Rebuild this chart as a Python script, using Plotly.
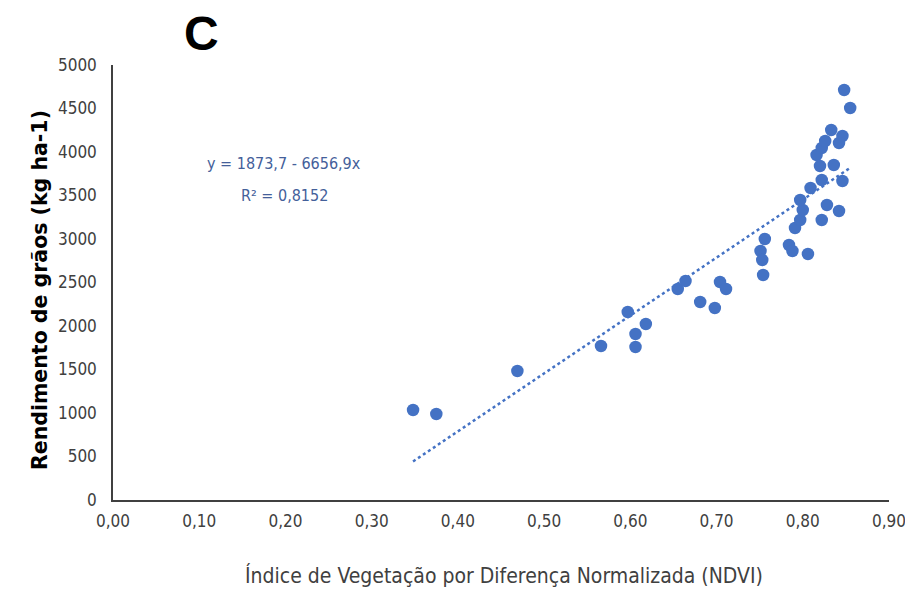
import plotly.graph_objects as go

ndvi = [0.348, 0.375, 0.469, 0.566, 0.597, 0.606, 0.606, 0.618, 0.655, 0.664,
        0.681, 0.698, 0.704, 0.711, 0.754, 0.751, 0.753, 0.756, 0.784, 0.788,
        0.806, 0.791, 0.797, 0.800, 0.797, 0.809, 0.822, 0.846, 0.828, 0.842,
        0.822, 0.820, 0.836, 0.816, 0.822, 0.826, 0.833, 0.846, 0.842, 0.848,
        0.855]
rendimento = [1034, 989, 1483, 1770, 2161, 1908, 1759, 2023, 2425, 2517,
              2276, 2207, 2506, 2425, 2586, 2862, 2759, 3000, 2931, 2862,
              2828, 3126, 3218, 3333, 3448, 3586, 3678, 3667, 3391, 3322,
              3218, 3839, 3851, 3966, 4046, 4126, 4253, 4184, 4103, 4713,
              4506]

intercept = -1873.7
slope = 6656.9
eq_text = "y = 1873,7 - 6656,9x"
r2_text = "R² = 0,8152"

x_ticks = [0.0, 0.1, 0.2, 0.3, 0.4, 0.5, 0.6, 0.7, 0.8, 0.9]
x_ticktext = ["0,00", "0,10", "0,20", "0,30", "0,40", "0,50", "0,60", "0,70", "0,80", "0,90"]
y_ticks = [0, 500, 1000, 1500, 2000, 2500, 3000, 3500, 4000, 4500, 5000]

x_title = "Índice de Vegetação por Diferença Normalizada (NDVI)"
y_title = "Rendimento de grãos (kg ha-1)"
panel = "C"

blue = "#4472C4"
narrow = "Liberation Sans Narrow, DejaVu Sans Condensed, Arial Narrow, sans-serif"

xmin, xmax = min(ndvi), max(ndvi)
trend_x = [xmin, xmax]
trend_y = [intercept + slope * v for v in trend_x]

fig = go.Figure()
fig.add_trace(go.Scatter(x=trend_x, y=trend_y, mode="lines",
                         line=dict(color=blue, width=2.5, dash="dot"),
                         hoverinfo="skip", showlegend=False))
fig.add_trace(go.Scatter(x=ndvi, y=rendimento, mode="markers",
                         marker=dict(color=blue, size=12.5),
                         showlegend=False))

# the page body adds an 8px offset; compensate so the plot area sits
# at x 113..889, y 65..500 of the 913x589 window
fig.update_layout(
    width=905, height=581,
    margin=dict(l=105, r=24, t=57, b=89),
    paper_bgcolor="white", plot_bgcolor="white",
    font=dict(family=narrow, color="#404040"),
)
fig.update_xaxes(range=[0, 0.9], tickvals=x_ticks, ticktext=x_ticktext,
                 showgrid=False, zeroline=False, showline=True,
                 linecolor="#404040", linewidth=1.5, ticks="",
                 ticklabelstandoff=5, automargin=False,
                 tickfont=dict(family=narrow, size=17, color="#404040"))
fig.update_yaxes(range=[0, 5000], tickvals=y_ticks,
                 showgrid=False, zeroline=False, showline=True,
                 linecolor="#404040", linewidth=1.5, ticks="",
                 ticklabelstandoff=11, automargin=False,
                 tickfont=dict(family=narrow, size=17, color="#404040"))

def px_x(p):
    return (p - 113) / 776

def px_y(p):
    return (500 - p) / 435

fig.add_annotation(text=y_title, xref="paper", yref="paper",
                   x=px_x(40), y=px_y(290),
                   xanchor="center", yanchor="middle",
                   textangle=-90, showarrow=False,
                   font=dict(family="DejaVu Sans, Verdana, sans-serif", size=20.5,
                             color="#000000", weight="bold"))
fig.add_annotation(text=x_title, xref="paper", yref="paper",
                   x=px_x(504), y=px_y(575),
                   xanchor="center", yanchor="middle",
                   showarrow=False,
                   font=dict(family=narrow, size=21, color="#404040"))
fig.add_annotation(text=panel, xref="paper", yref="paper",
                   x=px_x(201), y=px_y(33),
                   xanchor="center", yanchor="middle",
                   showarrow=False,
                   font=dict(family="Liberation Sans, Arial, sans-serif", size=48,
                             color="#000000", weight="bold"))
fig.add_annotation(text=eq_text, xref="paper", yref="paper",
                   x=px_x(284), y=px_y(163),
                   xanchor="center", yanchor="middle", showarrow=False,
                   font=dict(family=narrow, size=16, color="#44609A"))
fig.add_annotation(text=r2_text, xref="paper", yref="paper",
                   x=px_x(284), y=px_y(195),
                   xanchor="center", yanchor="middle", showarrow=False,
                   font=dict(family=narrow, size=16, color="#44609A"))

fig.write_html("out.html")
